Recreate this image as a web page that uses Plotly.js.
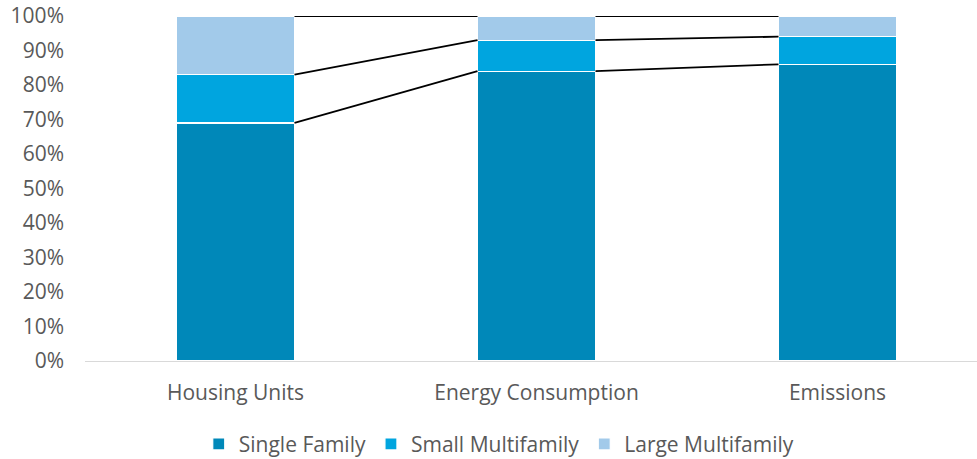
<!DOCTYPE html>
<html><head><meta charset="utf-8">
<script src="https://cdn.plot.ly/plotly-3.0.1.min.js"></script>
<style>html,body{margin:0;padding:0;background:#fff}#c{width:977px;height:459px}</style>
</head><body><div id="c"></div>
<script>
const categories = ["Housing Units", "Energy Consumption", "Emissions"];
const singleFamily = [69, 84, 86];
const smallMultifamily = [14, 9, 8];
const largeMultifamily = [17, 7, 6];
const seriesNames = ["Single Family", "Small Multifamily", "Large Multifamily"];
const colors = ["#0088B9", "#00A5DF", "#A2CAEA"];
const yTicks = [0,10,20,30,40,50,60,70,80,90,100];

const series = [singleFamily, smallMultifamily, largeMultifamily];
const idx = categories.map((_, i) => i);
const barW = 0.392;
const font = {family: "Open Sans, sans-serif", size: 21, color: "#595959"};

const traces = series.map((vals, k) => ({
  type: "bar", x: idx, y: vals, name: seriesNames[k], width: barW,
  marker: {color: colors[k], line: {color: "#ffffff", width: 1.2}},
  hoverinfo: "y"
}));

const cum = [];
let run = idx.map(() => 0);
series.forEach(vals => { run = run.map((r, i) => r + vals[i]); cum.push(run.slice()); });
cum.forEach(levels => {
  const xs = [], ys = [];
  for (let i = 0; i < idx.length - 1; i++) {
    xs.push(idx[i] + barW/2, idx[i+1] - barW/2, null);
    ys.push(levels[i], levels[i+1], null);
  }
  traces.push({type: "scatter", mode: "lines", x: xs, y: ys, showlegend: false,
    line: {color: "#000000", width: 1.8}, hoverinfo: "skip", cliponaxis: false});
});

const layout = {
  barmode: "stack",
  width: 977, height: 459,
  margin: {l: 85, r: 0, t: 16, b: 98},
  paper_bgcolor: "#fff", plot_bgcolor: "#fff",
  font: font,
  showlegend: true,
  legend: {orientation: "h", xref: "container", yref: "container",
    x: 0.511, xanchor: "center", y: 0.032, yanchor: "middle",
    font: font, traceorder: "normal"},
  xaxis: {type: "linear", range: [-0.5, -0.5 + 892/301], tickvals: idx, ticktext: categories,
    showgrid: false, zeroline: false, showline: true, linecolor: "#D9D9D9", linewidth: 1.3,
    ticks: "", tickfont: font, ticklabelstandoff: 12, fixedrange: true, automargin: false},
  yaxis: {range: [0, 100], tickvals: yTicks, ticktext: yTicks.map(v => v + "%"),
    showgrid: false, zeroline: false, showline: false, ticks: "", tickfont: font,
    ticklabelstandoff: 20, fixedrange: true, automargin: false}
};
Plotly.newPlot("c", traces, layout, {displayModeBar: false, staticPlot: true});
</script></body></html>
